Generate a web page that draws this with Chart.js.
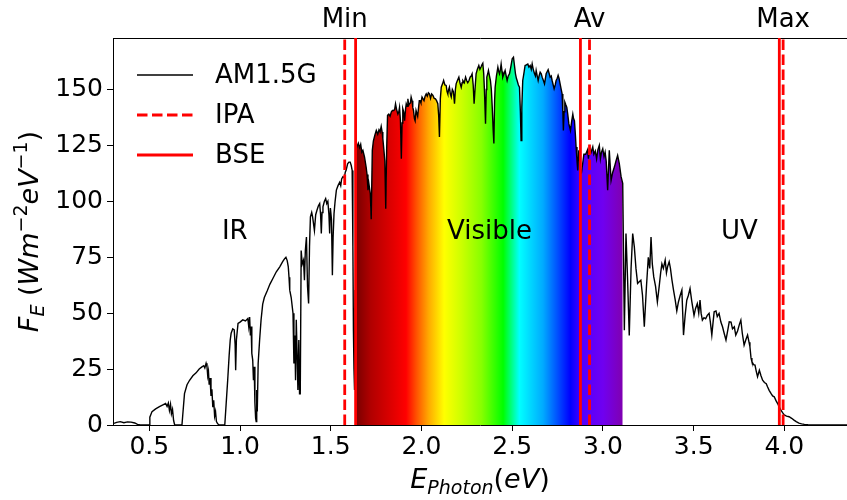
<!DOCTYPE html>
<html>
<head>
<meta charset="utf-8">
<script src="https://cdn.jsdelivr.net/npm/chart.js@4.4.0/dist/chart.umd.min.js"></script>
<style>
  html, body { margin: 0; padding: 0; background: #fff; }
</style>
</head>
<body>
<canvas id="spectrumChart" width="847" height="500"></canvas>
<script>
// AM1.5G spectral irradiance vs photon energy (eV, W m^-2 eV^-1)
const photonEnergy = [
  // IR
  0.30,0.32,0.34,0.36,0.38,0.40,0.42,0.435,0.45,0.50,
  0.503,0.515,0.535,0.556,0.575,0.59,0.598,0.605,0.611,0.617,
  0.622,0.628,0.634,0.64,0.68,0.684,0.694,0.708,0.722,0.74,
  0.758,0.775,0.79,0.80,0.806,0.813,0.818,0.822,0.826,0.83,
  0.835,0.84,0.845,0.85,0.855,0.86,0.865,0.87,0.877,0.886,
  0.916,0.924,0.932,0.94,0.946,0.951,0.96,0.968,0.973,0.976,
  0.98,0.989,1.00,1.015,1.03,1.043,1.048,1.053,1.057,1.061,
  1.065,1.07,1.074,1.078,1.082,1.086,1.089,1.092,1.095,1.10,
  1.108,1.116,1.125,1.134,1.15,1.165,1.181,1.20,1.219,1.235,
  1.246,1.253,1.26,1.266,1.27,1.274,1.282,1.292,1.297,1.302,
  1.306,1.31,1.315,1.319,1.324,1.328,1.332,1.337,1.343,1.35,
  1.355,1.36,1.366,1.372,1.378,1.383,1.388,1.395,1.40,1.405,
  1.41,1.417,1.424,1.432,1.439,1.444,1.448,1.452,1.457,1.465,
  1.472,1.478,1.484,1.49,1.494,1.498,1.504,1.509,1.513,1.518,
  1.524,1.531,1.54,1.549,1.555,1.56,1.567,1.575,1.58,1.585,
  1.593,1.60,1.607,1.613,1.618,1.622,1.625,1.628,1.631,1.634,
  // visible
  1.637,1.645,1.652,1.659,1.665,1.671,1.677,1.686,1.695,1.70,
  1.705,1.71,1.718,1.723,1.729,1.735,1.743,1.751,1.759,1.766,
  1.772,1.778,1.783,1.787,1.793,1.798,1.803,1.808,1.813,1.82,
  1.827,1.834,1.84,1.846,1.852,1.857,1.863,1.87,1.875,1.879,
  1.884,1.889,1.893,1.897,1.902,1.907,1.912,1.916,1.921,1.925,
  1.93,1.934,1.939,1.943,1.948,1.952,1.956,1.961,1.965,1.97,
  1.974,1.979,1.984,1.988,1.992,1.997,2.003,2.008,2.014,2.02,
  2.026,2.032,2.038,2.044,2.05,2.056,2.063,2.07,2.077,2.083,
  2.09,2.095,2.099,2.104,2.109,2.116,2.122,2.129,2.136,2.141,
  2.145,2.15,2.154,2.159,2.164,2.17,2.176,2.182,2.187,2.191,
  2.198,2.206,2.212,2.219,2.224,2.228,2.236,2.243,2.249,2.255,
  2.262,2.268,2.274,2.279,2.285,2.29,2.295,2.301,2.308,2.316,
  2.322,2.328,2.333,2.338,2.343,2.347,2.353,2.357,2.36,2.365,
  2.369,2.375,2.38,2.385,2.39,2.395,2.399,2.403,2.406,2.413,
  2.421,2.426,2.43,2.435,2.439,2.444,2.448,2.455,2.461,2.467,
  2.472,2.478,2.485,2.492,2.5,2.507,2.512,2.518,2.523,2.527,
  2.534,2.54,2.545,2.549,2.553,2.558,2.564,2.571,2.578,2.586,
  2.592,2.599,2.605,2.61,2.616,2.623,2.628,2.632,2.638,2.643,
  2.648,2.654,2.66,2.665,2.672,2.678,2.683,2.687,2.693,2.698,
  2.704,2.709,2.715,2.72,2.726,2.731,2.737,2.742,2.748,2.753,
  2.758,2.764,2.77,2.775,2.779,2.782,2.786,2.79,2.796,2.801,
  2.806,2.812,2.817,2.821,2.828,2.834,2.838,2.843,2.848,2.852,
  2.857,2.861,2.867,2.872,2.876,2.882,2.887,2.895,2.905,2.915,
  2.92,2.926,2.935,2.944,2.95,2.958,2.965,2.972,2.98,2.986,
  2.992,2.999,3.006,3.012,3.018,3.026,3.035,3.045,3.054,3.063,
  3.072,3.081,3.09,3.1,3.109,
  // UV
  3.118,3.127,3.136,3.145,3.155,3.164,3.173,3.182,3.191,3.2,
  3.209,3.218,3.228,3.24,3.25,3.258,3.265,3.272,3.28,3.29,
  3.3,3.31,3.318,3.325,3.333,3.343,3.35,3.357,3.365,3.372,
  3.38,3.389,3.398,3.407,3.416,3.426,3.435,3.444,3.453,3.462,
  3.471,3.48,3.49,3.502,3.51,3.52,3.528,3.535,3.541,3.548,
  3.557,3.566,3.575,3.585,3.592,3.6,3.607,3.613,3.623,3.63,
  3.64,3.65,3.659,3.668,3.678,3.687,3.696,3.706,3.714,3.724,
  3.732,3.742,3.752,3.76,3.768,3.778,3.787,3.797,3.805,3.81,
  3.816,3.821,3.83,3.838,3.845,3.852,3.862,3.871,3.88,3.89,
  3.9,3.907,3.916,3.926,3.935,3.944,3.953,3.962,3.972,3.98,
  3.99,3.999,4.012,4.026,4.04,4.053,4.065,4.08,4.095,4.11,
  4.13,4.16,4.35
];

const irradiance = [
  // IR
  0.6,1.2,1.5,1.0,1.4,1.3,0.9,0.3,0,0,
  3.5,6,7.2,8.2,9,9.6,8.3,9.8,6.5,9.2,
  5,7,2,0,0,4,14,18,20,22,
  23.3,25,26,26.5,25.5,27.6,26,22,24,18,
  21,13,16,8,11,4,6,1.5,0.5,0,
  0,10,20,31,38,41,43,42.5,36,24.5,
  38,45.4,46,47,46.5,47.6,44,48.3,40,44,
  32,29,20,26,10,3,1.5,15.6,6,27.6,
  38,47,54,57,60,63,65.5,68.5,70.7,73,
  74.4,75,73.5,70.7,66,60.3,57,49.9,27.5,40,
  20,47,30,15.6,38,14,14,78,72,73.7,
  64.7,78,84,62,54.3,80,93,95,93,90,
  87,94,96,98,99,94,85.6,95,97.5,100,
  101.2,99,100,94,85.6,97,92,67,84,94.5,
  100,105,107,108.5,107,110,111,110.5,113,114,
  116.8,117.5,117.5,116,113.8,80,42,25,15.6,60,
  // visible
  122.8,124.5,126,124,125.5,122,122.8,119.8,115.3,112,
  105,108,103.4,92,122.8,127,129.5,131.7,130,132,
  131,133.5,131,128,122.8,118,96.7,122.8,138.4,139,
  138,140,140.6,140.6,141,143.6,141,139,140,142,
  136,119,135,141.4,140,136,141,143.6,142.5,145.8,
  143,143.6,144,146.6,145,142,140.6,137,136,140.6,
  140.6,138,142,145,145,144,146.6,146.6,145,147,
  148,147,148.5,148,146,148,147.3,146,145.8,145,
  143.6,138,128.7,146,151,152.5,154,152,151.8,149,
  148,150,151,148,146.6,150,149,143.6,150,152.5,
  154,155.5,153,151,153,154,153,155.5,154,153,
  154,155.5,156,157,152,143.6,150,157,159,160.7,
  159,160,161,161.7,157,149.6,134.7,150,155.5,157,
  158.5,156,154,150,142,132,125.8,145,151,156,
  160,158,157,159,161.4,158,155.5,157,158.5,156,
  154,156,157,160,163.7,164.4,161,157,155,154,
  152,151,140,127.2,142,154,157,160.7,161,161.4,
  160,160.7,159,161.4,159,157,156,158.5,156,154,
  156,157.7,157,155.5,154,152.5,155,157,158,158.8,
  157,155.5,156,154,152,150.3,152,154,155,156.3,
  155,152.5,150,148,140,131.7,140,144.3,143,142,
  139,134.7,133,131.7,136,139,137,136,130,124.3,
  118,113.8,122.8,118,114,113,116,121,121,123,
  119,124,122,124.3,121,122.5,119,123,125,119,
  122,123.5,120,122,118,105,122.8,109.4,113,115.3,
  118,120.5,117,111,108,
  // UV
  42.4,85.6,64.7,40,70,85.6,79.6,70,63.3,64,
  64.7,58,43.9,62,75,70,84,72,66.2,62,
  55,62,68,72,70,73.7,68,71,73,70,
  65,60.3,56,51,55,58,60.3,40.2,49,55.8,
  58,61,55,49,52,54.3,50,55.8,50,46.9,
  48,47.5,49,49.9,46,40.2,46,50.6,51,48.5,
  49.9,46,43.9,41,38,42,46.1,46,43,43.9,
  40.2,42,45,46.9,41,35.7,38,40.2,37,35,
  30,28.3,27,26.8,24,21.6,24.5,22,20,19,
  18.5,17.1,15.5,14.1,13,12.6,11,9.7,8,6.7,
  5.5,4.5,4,3.7,3,2.2,1.5,0.8,0.5,0.3,
  0.1,0,0
];

// band edges: IPA (dashed) and BSE (solid)
const ipaEnergy = [1.577, 2.926, 3.993];
const bseEnergy = [1.637, 2.876, 3.972];
const edgeLabels = ['Min', 'Av', 'Max'];

// part of the curve painted with the spectrum colours
const visibleRange = [1.637, 3.109];

const xTicks = [0.5, 1.0, 1.5, 2.0, 2.5, 3.0, 3.5, 4.0];
const yTicks = [0, 25, 50, 75, 100, 125, 150];

const regionNames = ['IR', 'Visible', 'UV'];
const regionEnergy = [0.971, 2.375, 3.752];
const regionFlux = [86, 86, 86];

const X_MIN = 0.3, X_MAX = 4.345, Y_MAX = 173;
const FONT = "'DejaVu Sans', sans-serif";

// colour stops of the rainbow fill, keyed by photon energy
const spectrumStops = [
  [1.637, '#780000'], [1.72, '#b00000'], [1.82, '#d80000'], [1.915, '#ff0000'],
  [1.975, '#ff5500'], [2.04, '#ffaa00'], [2.125, '#ffff00'], [2.22, '#ccff00'],
  [2.33, '#88ff00'], [2.45, '#00ff00'], [2.54, '#00ffff'], [2.67, '#00aaff'],
  [2.82, '#0000ff'], [2.89, '#5000ff'], [3.0, '#7000f0'], [3.109, '#8000b0']
];

const curve = photonEnergy.map((e, i) => ({ x: e, y: irradiance[i] }));
const visiblePart = curve.filter(p => p.x >= visibleRange[0] && p.x <= visibleRange[1]);

// vertical marker segments separated by gaps
function markerLines(values) {
  const pts = [];
  values.forEach(v => pts.push({ x: v, y: 0 }, { x: v, y: Y_MAX }, { x: v, y: null }));
  return pts;
}

function spectrumFill(context) {
  const chart = context.chart;
  const { chartArea, scales } = chart;
  if (!chartArea) return null;
  const x0 = scales.x.getPixelForValue(spectrumStops[0][0]);
  const x1 = scales.x.getPixelForValue(spectrumStops[spectrumStops.length - 1][0]);
  const g = chart.ctx.createLinearGradient(x0, 0, x1, 0);
  spectrumStops.forEach(([e, c]) => {
    const f = (scales.x.getPixelForValue(e) - x0) / (x1 - x0);
    g.addColorStop(Math.min(1, Math.max(0, f)), c);
  });
  return g;
}

// draws a run of text pieces (italic / sub / superscript) centred on cx
function drawMath(ctx, parts, cx, baseY) {
  const fontOf = p => (p[1] ? 'italic ' : '') + p[2] + 'px ' + FONT;
  let total = 0;
  parts.forEach(p => { ctx.font = fontOf(p); total += ctx.measureText(p[0]).width; });
  let x = cx - total / 2;
  ctx.textAlign = 'left';
  ctx.textBaseline = 'alphabetic';
  parts.forEach(p => {
    ctx.font = fontOf(p);
    ctx.fillText(p[0], x, baseY + p[3]);
    x += ctx.measureText(p[0]).width;
  });
}

const xTitle = [['E', true, 27, 0], ['Photon', true, 19, 6], ['(', false, 27, 0], ['eV', true, 27, 0], [')', false, 27, 0]];
const yTitle = [['F', true, 27, 0], ['E', true, 19, 6], [' (', false, 27, 0], ['Wm', true, 27, 0], ['\u22122', false, 19, -11],
                ['eV', true, 27, 0], ['\u22121', false, 19, -11], [')', false, 27, 0]];

const decorations = {
  id: 'decorations',
  afterDraw(chart) {
    const { ctx, scales, chartArea } = chart;
    ctx.save();
    ctx.fillStyle = '#000';

    // region names
    ctx.font = '26px ' + FONT;
    ctx.textAlign = 'center';
    ctx.textBaseline = 'middle';
    regionNames.forEach((name, i) => {
      ctx.fillText(name, scales.x.getPixelForValue(regionEnergy[i]), scales.y.getPixelForValue(regionFlux[i]));
    });

    // legend in the upper left corner
    chart.data.datasets.filter(ds => ds.label).forEach((ds, i) => {
      const y = chartArea.top + 37 + i * 40;
      ctx.save();
      ctx.strokeStyle = ds.borderColor;
      ctx.lineWidth = ds.borderWidth;
      ctx.setLineDash(ds.borderDash || []);
      ctx.beginPath();
      ctx.moveTo(chartArea.left + 24, y);
      ctx.lineTo(chartArea.left + 80, y);
      ctx.stroke();
      ctx.restore();
      ctx.font = '26px ' + FONT;
      ctx.textAlign = 'left';
      ctx.textBaseline = 'middle';
      ctx.fillText(ds.label, chartArea.left + 102, y + 1);
    });

    // axis titles
    drawMath(ctx, xTitle, (chartArea.left + chartArea.right) / 2, 488);
    ctx.save();
    ctx.translate(38, (chartArea.top + chartArea.bottom) / 2);
    ctx.rotate(-Math.PI / 2);
    drawMath(ctx, yTitle, 0, 0);
    ctx.restore();

    ctx.restore();
  }
};

const lineDefaults = { pointRadius: 0, tension: 0, spanGaps: false };

new Chart(document.getElementById('spectrumChart').getContext('2d'), {
  type: 'line',
  data: {
    datasets: [
      { ...lineDefaults, label: 'AM1.5G', data: curve, borderColor: '#000000', borderWidth: 1.4, order: 1 },
      { ...lineDefaults, label: 'IPA', data: markerLines(ipaEnergy), borderColor: '#ff0000', borderWidth: 2.8,
        borderDash: [10.5, 4.5], order: 0 },
      { ...lineDefaults, label: 'BSE', data: markerLines(bseEnergy), borderColor: '#ff0000', borderWidth: 2.8, order: 0 },
      { ...lineDefaults, label: '', data: visiblePart, borderWidth: 0, borderColor: 'rgba(0,0,0,0)',
        backgroundColor: spectrumFill, fill: 'origin', order: 2 }
    ]
  },
  options: {
    responsive: false,
    animation: false,
    layout: { padding: 0 },
    plugins: { legend: { display: false }, tooltip: { enabled: false } },
    scales: {
      x: {
        type: 'linear', position: 'bottom', min: X_MIN, max: X_MAX,
        afterBuildTicks: a => { a.ticks = xTicks.map(v => ({ value: v })); },
        afterFit: a => { a.height = 75; },
        ticks: { color: '#000', font: { family: FONT, size: 25 }, padding: 1, maxRotation: 0,
                 callback: v => Number(v).toFixed(1) },
        grid: { drawOnChartArea: false, tickLength: 6, color: '#000' },
        border: { color: '#000', width: 1 }
      },
      x2: {
        type: 'linear', position: 'top', min: X_MIN, max: X_MAX,
        afterBuildTicks: a => { a.ticks = ipaEnergy.map(v => ({ value: v })); },
        afterFit: a => { a.height = 38; },
        ticks: { color: '#000', font: { family: FONT, size: 26 }, padding: 2, maxRotation: 0,
                 callback: (v, i) => edgeLabels[i] },
        grid: { display: false, drawTicks: false },
        border: { color: '#000', width: 1 }
      },
      y: {
        type: 'linear', min: 0, max: Y_MAX,
        afterBuildTicks: a => { a.ticks = yTicks.map(v => ({ value: v })); },
        afterFit: a => { a.width = 113; },
        ticks: { color: '#000', font: { family: FONT, size: 25 }, padding: 4 },
        grid: { drawOnChartArea: false, tickLength: 6, color: '#000' },
        border: { color: '#000', width: 1 }
      }
    }
  },
  plugins: [decorations]
});
</script>
</body>
</html>
